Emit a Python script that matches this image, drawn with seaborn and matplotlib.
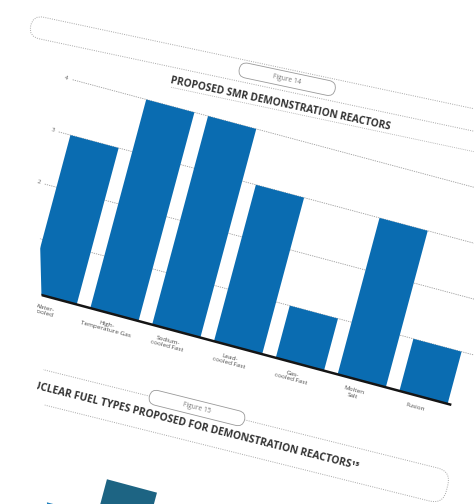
import numpy as np
import pandas as pd
import matplotlib
matplotlib.use("Agg")
import matplotlib.pyplot as plt
import seaborn as sns
from matplotlib.patches import FancyBboxPatch, Polygon
from matplotlib.transforms import Affine2D, Bbox, TransformedBbox

# Figure 14 - proposed SMR demonstration reactors
reactor_types = ["Water-\ncooled", "High-\nTemperature Gas", "Sodium-\ncooled Fast",
                 "Lead-\ncooled Fast", "Gas-\ncooled Fast", "Molten\nSalt", "Fusion"]
demo_counts = [3, 4, 4, 3, 1, 3, 1]
count_ticks = [1, 2, 3, 4]

# Figure 15 - only the tops of two bars show at the bottom of the photo
fuel_types = ["LEU", "HALEU"]
fuel_counts = [4.3, 5]

W, H = 474, 504
BLUE = "#0a6cb1"
GRID = "#9c9c9c"
FRAME = "#a8a8a8"

sns.set_style("white")
plt.rcParams["font.family"] = ["Open Sans", "DejaVu Sans"]

fig = plt.figure(figsize=(W / 100, H / 100), dpi=100)
ax = fig.add_axes([0, 0, 1, 1])
ax2 = fig.add_axes([0, 0, 1, 1])

# --- figure 14 bars, drawn upright then tilted like the photographed page
df14 = pd.DataFrame({"type": reactor_types, "count": demo_counts})
sns.barplot(data=df14, x="type", y="count", color=BLUE, saturation=1,
            width=0.78, linewidth=0, ax=ax)

ox, oy, pitch, unit = 52.6, H - 298, 64, 54
ax.set_xlim(-ox / pitch, (W - ox) / pitch)
ax.set_ylim(-oy / unit, (H - oy) / unit)
ax.set_axis_off()
tr = ax.transData + Affine2D().rotate_deg_around(ox, oy, -15)
for bar in ax.patches:
    bar.set_transform(tr)
    bar.set_zorder(2)

rot = dict(rotation=-15, rotation_mode="anchor")
for t in count_ticks:
    ax.plot([-0.58, 7.6], [t, t], transform=tr, color=GRID, lw=0.6,
            ls=(0, (1.5, 1.2)), zorder=1)
    ax.text(-0.68, t, str(t), transform=tr, ha="center", va="center",
            fontsize=4.5, color="#666666", **rot)
ax.plot([-0.55, 6.45], [0, 0], transform=tr, color="#151515", lw=1.8,
        solid_capstyle="butt", zorder=3)
for i, lab in enumerate(reactor_types):
    ax.text(i - 0.08, -0.17, lab, transform=tr, ha="center", va="top",
            fontsize=4.6, color="#4a4a4a", linespacing=1.0, **rot)

# --- figure 14 header
hdr14 = Affine2D().rotate_deg(-12).translate(33, H - 15)
rot14 = dict(rotation=-12, rotation_mode="anchor")
ax.add_patch(FancyBboxPatch((0, -22), 700, 22, boxstyle="round,pad=0,rounding_size=11",
                            fill=False, ec=FRAME, lw=0.7, ls=(0, (1, 1.3)),
                            transform=hdr14, zorder=1))
ax.add_patch(FancyBboxPatch((213, -17.5), 98, 15, boxstyle="round,pad=0,rounding_size=7.5",
                            fc="white", ec="#999999", lw=0.6, transform=hdr14, zorder=2))
ax.text(262, -10, "Figure 14", transform=hdr14, ha="center", va="center",
        fontsize=4.8, color="#777777", zorder=3, **rot14)
ax.text(148, -30, "PROPOSED SMR DEMONSTRATION REACTORS", transform=hdr14,
        ha="left", va="top", fontsize=7.3, weight="bold", color="#333333", **rot14)
ax.plot([150, 650], [-42, -42], transform=hdr14, color=FRAME, lw=0.6,
        ls=(0, (1, 1.3)), zorder=1)

# --- figure 15 header
hdr15 = Affine2D().rotate_deg(-14).translate(197, H - 408)
rot15 = dict(rotation=-14, rotation_mode="anchor")
ax.add_patch(FancyBboxPatch((-420, -34), 682, 34, boxstyle="round,pad=0,rounding_size=14",
                            fill=False, ec=FRAME, lw=0.7, ls=(0, (1, 1.3)),
                            transform=hdr15, zorder=1))
ax.add_patch(FancyBboxPatch((-49, -7.5), 98, 15, boxstyle="round,pad=0,rounding_size=7.5",
                            fc="white", ec="#999999", lw=0.6, transform=hdr15, zorder=2))
ax.text(0, 0, "Figure 15", transform=hdr15, ha="center", va="center",
        fontsize=4.8, color="#777777", zorder=3, **rot15)
ax.text(171, -12.5, "NUCLEAR FUEL TYPES PROPOSED FOR DEMONSTRATION REACTORS\u00b9\u2075",
        transform=hdr15, ha="right", va="top", fontsize=7.4, weight="bold",
        color="#333333", **rot15)

# --- figure 15 bars (mostly below the photo edge)
df15 = pd.DataFrame({"fuel": fuel_types, "count": fuel_counts})
sns.barplot(data=df15, x="fuel", y="count", hue="fuel", palette=["#1f80bd", "#1d6483"],
            saturation=1, width=0.7, linewidth=0, legend=False, ax=ax2)
ox2, oy2, pitch2 = -9.4, H - 727.6, 74
ax2.set_xlim(-ox2 / pitch2, (W - ox2) / pitch2)
ax2.set_ylim(-oy2 / unit, (H - oy2) / unit)
ax2.set_axis_off()
tr2 = ax2.transData + Affine2D().rotate_deg_around(ox2, oy2, -15)
for bar in ax2.patches:
    bar.set_transform(tr2)

# the photo shows nothing left of the page edge
edge = [(28, 0), (W, 0), (W, H), (47, H), (40, 240)]
clip = Polygon([(x / W, 1 - y / H) for x, y in edge], closed=True, transform=ax.transAxes)
for a in ax.patches + ax.lines + ax2.patches:
    a.set_clip_path(clip)
# text is only clipped by rectangles in Agg
text_box = TransformedBbox(Bbox.from_extents(37 / W, 0, 1, 1), ax.transAxes)
for a in ax.texts:
    a.set_clip_box(text_box)
    a.set_clip_on(True)

fig.savefig("out.png", dpi=100, facecolor="white")
